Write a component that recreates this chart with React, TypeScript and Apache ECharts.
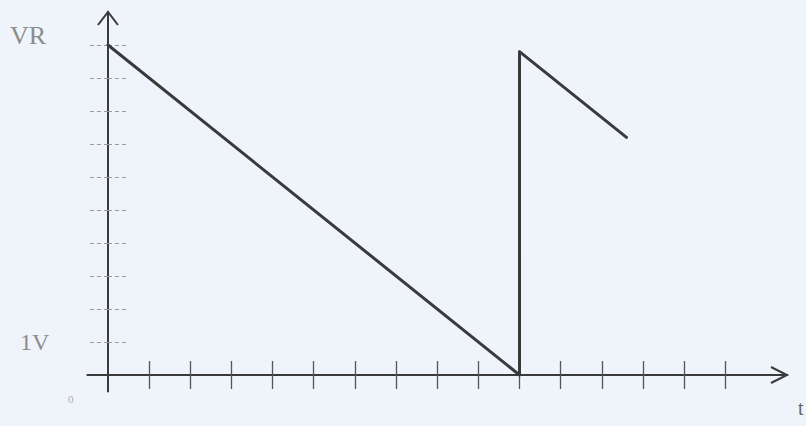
import React, { useEffect, useRef } from "react";
import * as echarts from "echarts";

// Data: time (in tick units) and VR (volts)
const tValues = [0, 10, 10, 12.6];
const vrValues = [10, 0, 9.8, 7.2];
const xTickValues = [1, 2, 3, 4, 5, 6, 7, 8, 9, 10, 11, 12, 13, 14, 15];
const yTickValues = [1, 2, 3, 4, 5, 6, 7, 8, 9, 10];
const yLabelValues = [1];
const yLabelText = "1V";
const yName = "VR";
const xName = "t";
const originLabel = "0";

const INK = "#3a3a3a";
const FAINT = "#8c8c8c";
const BG = "#eff4fa";
const SERIF = "'Liberation Serif', 'DejaVu Serif', serif";

export default function App() {
  const ref = useRef<HTMLDivElement>(null);
  useEffect(() => {
    if (!ref.current) return;
    document.body.style.margin = "0";
    const chart = echarts.init(ref.current, null, { renderer: "svg" });
    const data = tValues.map((t, i) => [t, vrValues[i]]);
    const xMin = -0.5, xMax = 16.5, yMin = -0.5, yMax = 11;
    chart.setOption({
      animation: false,
      backgroundColor: BG,
      grid: { left: 87.4, right: 19, top: 12, bottom: 34.5 },
      xAxis: [
        {
          type: "value", min: xMin, max: xMax,
          axisLine: { show: true, onZero: true, onZeroAxisIndex: 0, lineStyle: { color: INK, width: 2 } },
          axisTick: { show: true, customValues: xTickValues, length: 14, lineStyle: { color: "#555", width: 1.3 } },
          axisLabel: { show: false },
          splitLine: { show: false },
        },
        {
          type: "value", min: xMin, max: xMax, position: "bottom",
          axisLine: { show: false, onZero: true, onZeroAxisIndex: 0 },
          axisTick: { show: true, inside: true, customValues: xTickValues, length: 14, lineStyle: { color: "#555", width: 1.3 } },
          axisLabel: { show: false },
          splitLine: { show: false },
        },
      ],
      yAxis: [
        {
          type: "value", min: yMin, max: yMax,
          axisLine: { show: true, onZero: true, onZeroAxisIndex: 0, lineStyle: { color: INK, width: 2 } },
          axisTick: { show: true, customValues: yTickValues, length: 20, lineStyle: { color: "#9a9a9a", width: 1, type: [4, 3] } },
          axisLabel: {
            show: true, customValues: yLabelValues, formatter: () => yLabelText,
            margin: 38, fontSize: 24, fontFamily: SERIF, color: FAINT,
          },
          splitLine: { show: false },
        },
        {
          type: "value", min: yMin, max: yMax, position: "left",
          axisLine: { show: false, onZero: true, onZeroAxisIndex: 0 },
          axisTick: { show: true, inside: true, customValues: yTickValues, length: 20, lineStyle: { color: "#9a9a9a", width: 1, type: [4, 3] } },
          axisLabel: { show: false },
          splitLine: { show: false },
        },
      ],
      series: [
        {
          type: "line",
          data,
          symbol: "none",
          lineStyle: { color: INK, width: 3, join: "round", cap: "round" },
          z: 5,
        },
      ],
    });

    const xEnd = chart.convertToPixel({ xAxisIndex: 0, yAxisIndex: 0 }, [xMax, 0]) as number[];
    const yEnd = chart.convertToPixel({ xAxisIndex: 0, yAxisIndex: 0 }, [0, yMax]) as number[];
    const orig = chart.convertToPixel({ xAxisIndex: 0, yAxisIndex: 0 }, [0, 0]) as number[];
    chart.setOption({
      graphic: [
        {
          type: "polyline",
          shape: { points: [[xEnd[0] - 16, xEnd[1] - 8], [xEnd[0], xEnd[1]], [xEnd[0] - 16, xEnd[1] + 8]] },
          style: { stroke: INK, lineWidth: 2, fill: null },
        },
        {
          type: "polyline",
          shape: { points: [[yEnd[0] - 10, yEnd[1] + 13], [yEnd[0], yEnd[1]], [yEnd[0] + 10, yEnd[1] + 13]] },
          style: { stroke: INK, lineWidth: 2, fill: null },
        },
        {
          type: "text", left: 10, top: 22,
          style: { text: yName, font: `26px ${SERIF}`, fill: FAINT },
        },
        {
          type: "text", left: 798, top: 398,
          style: { text: xName, font: `20px ${SERIF}`, fill: "#666" },
        },
        {
          type: "text", x: orig[0] - 40, y: orig[1] + 18,
          style: { text: originLabel, font: `11px ${SERIF}`, fill: "#b0b0b0" },
        },
      ],
    });
    return () => chart.dispose();
  }, []);
  return (
    <div
      ref={ref}
      style={{ position: "fixed", left: 0, top: 0, width: 806, height: 426 }}
    />
  );
}
